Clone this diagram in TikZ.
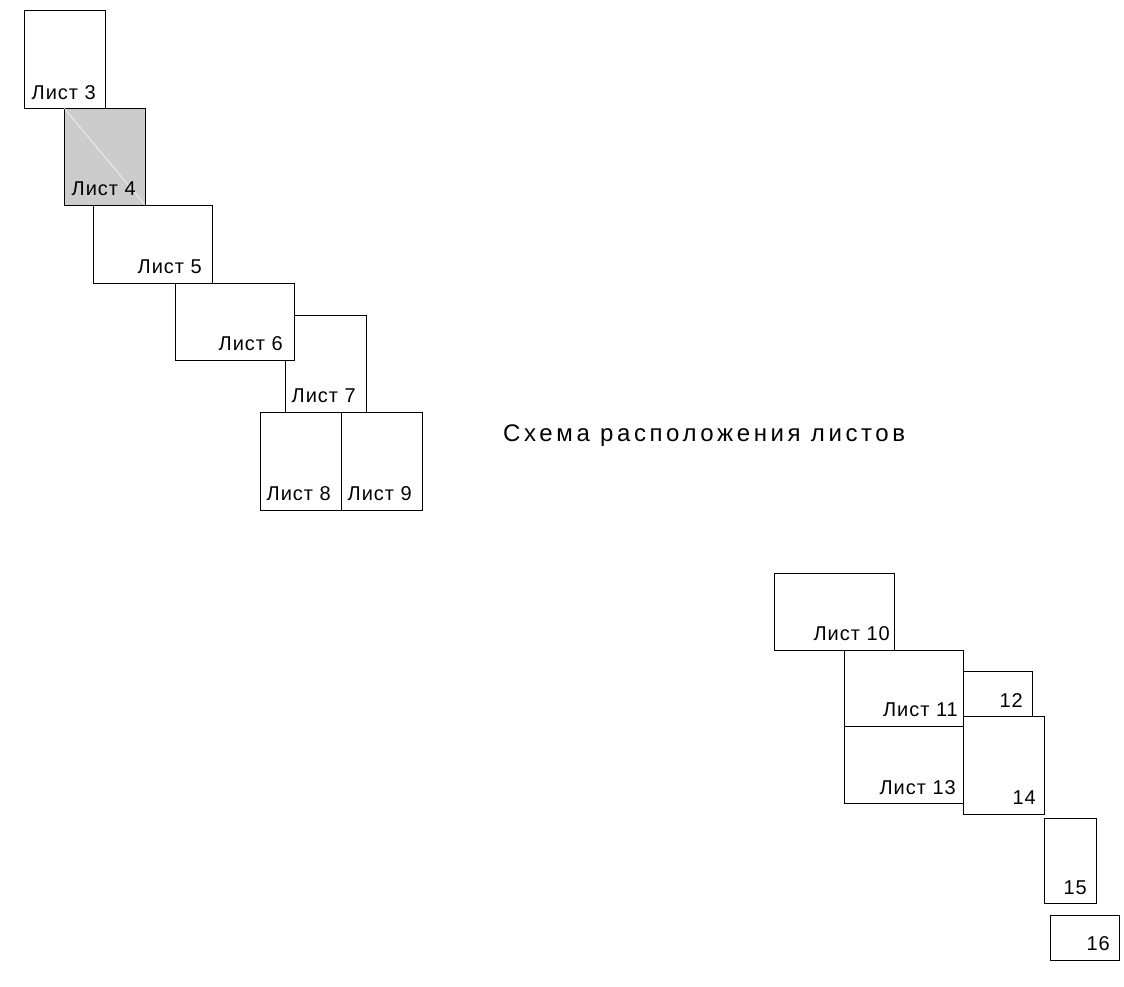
\documentclass[tikz,border=0pt]{standalone}
\usepackage{fontspec}
\setmainfont{Liberation Sans}
\newfontfamily\lblfont[LetterSpace=5]{Liberation Sans}
\newfontfamily\ttlfont[LetterSpace=15]{Liberation Sans}
\usetikzlibrary{calc}
\definecolor{sheetgray}{HTML}{CCCCCC}
\tikzset{
  sheet/.style={draw=black, line width=0.8pt, fill=white, rectangle, inner sep=0pt, outer sep=0pt, anchor=north west},
  lbl/.style={anchor=base east, inner sep=0pt, font=\lblfont\fontsize{20pt}{20pt}\selectfont},
  ttl/.style={anchor=base west, inner sep=0pt, font=\ttlfont\fontsize{24pt}{24pt}\selectfont}
}
\begin{document}
\begin{tikzpicture}[x=1pt,y=-1pt]
\useasboundingbox (0,0) rectangle (1124,986);
% upper group
\node[sheet, minimum width=81pt, minimum height=98pt] (s3) at (24,10) {};
\node[sheet, fill=sheetgray, minimum width=81pt, minimum height=97pt] (s4) at (64,108) {};
\draw[white, line width=0.5pt] (s4.north west) -- (s4.south east);
\node[sheet, minimum width=119pt, minimum height=78pt] (s5) at (93,205) {};
\node[sheet, minimum width=81pt, minimum height=97pt] (s7) at (285,315) {};
\node[sheet, minimum width=119pt, minimum height=77pt] (s6) at (175,283) {};
\node[sheet, minimum width=81pt, minimum height=98pt] (s8) at (260,412) {};
\node[sheet, minimum width=81pt, minimum height=98pt] (s9) at (341,412) {};
% lower group
\node[sheet, minimum width=120pt, minimum height=77pt] (s10) at (774,573) {};
\node[sheet, minimum width=119pt, minimum height=76pt] (s11) at (844,650) {};
\node[sheet, minimum width=119pt, minimum height=77pt] (s13) at (844,726) {};
\node[sheet, minimum width=69pt, minimum height=45pt] (s12) at (963,671) {};
\node[sheet, minimum width=81pt, minimum height=98pt] (s14) at (963,716) {};
\node[sheet, minimum width=52pt, minimum height=85pt] (s15) at (1044,818) {};
\node[sheet, minimum width=69pt, minimum height=45pt] (s16) at (1050,915) {};
% labels
\node[lbl] (l3) at ($(s3.south east)+(-9,-9)$) {Лист 3};
\node[lbl] (l4) at ($(s4.south east)+(-9,-10)$) {Лист 4};
\node[lbl] (l5) at ($(s5.south east)+(-10,-10)$) {Лист 5};
\node[lbl] (l6) at ($(s6.south east)+(-11,-10)$) {Лист 6};
\node[lbl] (l7) at ($(s7.south east)+(-10,-10)$) {Лист 7};
\node[lbl] (l8) at ($(s8.south east)+(-10,-10)$) {Лист 8};
\node[lbl] (l9) at ($(s9.south east)+(-10,-10)$) {Лист 9};
\node[lbl] (l10) at ($(s10.south east)+(-4,-10)$) {Лист 10};
\node[lbl] (l11) at ($(s11.south east)+(-5,-10)$) {Лист 11};
\node[lbl] (l13) at ($(s13.south east)+(-7,-9)$) {Лист 13};
\node[lbl] (l12) at ($(s12.south east)+(-9,-9)$) {12};
\node[lbl] (l14) at ($(s14.south east)+(-8,-10)$) {14};
\node[lbl] (l15) at ($(s15.south east)+(-9,-9)$) {15};
\node[lbl] (l16) at ($(s16.south east)+(-9,-10)$) {16};
% title
\node[ttl] (title) at (503,441) {Схема расположения листов};
\end{tikzpicture}
\end{document}
